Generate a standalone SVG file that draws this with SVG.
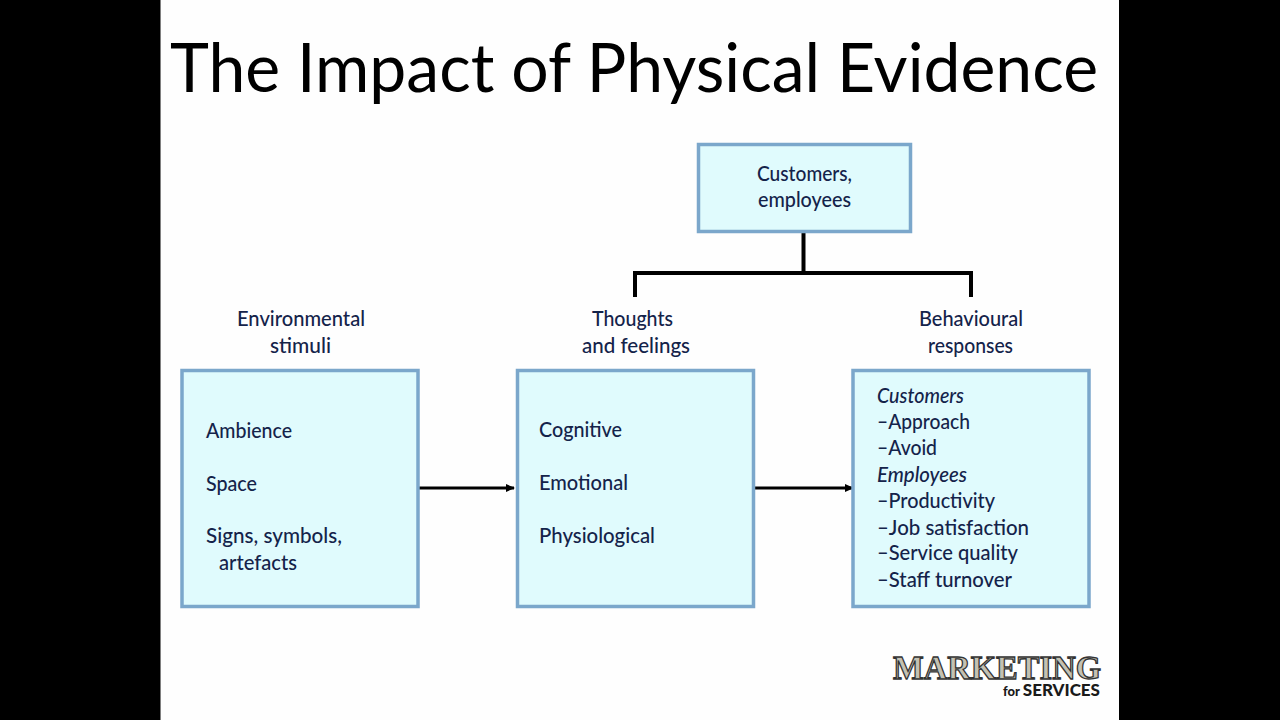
<svg xmlns="http://www.w3.org/2000/svg" width="1280" height="720" viewBox="0 0 1280 720">
<style>
.box{fill:#e0fbfd;stroke:#7ba7cb;stroke-width:3.5}
.t{font-family:"Lato","Noto Sans",sans-serif;font-size:21px;fill:#14234a;font-weight:500}
.m{text-anchor:middle}
.i{font-style:italic}
.c{fill:none;stroke:#000;stroke-width:4}
.a{fill:none;stroke:#000;stroke-width:3;marker-end:url(#ah)}
</style>
<defs><marker id="ah" markerUnits="userSpaceOnUse" markerWidth="9" markerHeight="9" refX="8" refY="4.5" orient="auto"><path d="M0 0.500L9 4.500L0 8.500Z" fill="#000"/></marker></defs>
<rect width="1280" height="720" fill="#000"/>
<rect x="160.500" y="0" width="958.500" height="720" fill="#fefefe"/>
<text id="title" x="634" y="92" text-anchor="middle" textLength="928" lengthAdjust="spacingAndGlyphs" style="font-family:'Lato','Noto Sans',sans-serif;font-size:67px;fill:#000">The Impact of Physical Evidence</text>
<g id="connectors">
<path class="c" d="M803.500 232V273M635 297V273H971V297"/>
<path class="a" d="M419 488H514"/>
<path class="a" d="M755 488H853"/>
</g>
<g id="customers"><rect class="box" x="698.500" y="144.500" width="212" height="87"/>
<text class="t m" x="804.500" y="181" textLength="95" lengthAdjust="spacingAndGlyphs">Customers,</text><text class="t m" x="804.500" y="207" textLength="93" lengthAdjust="spacingAndGlyphs">employees</text></g>
<g id="stimuli-label"><text class="t m" x="301" y="326" textLength="128" lengthAdjust="spacingAndGlyphs">Environmental</text><text class="t m" x="300.500" y="353" textLength="61" lengthAdjust="spacingAndGlyphs">stimuli</text></g>
<g id="thoughts-label"><text class="t m" x="632.500" y="326" textLength="81" lengthAdjust="spacingAndGlyphs">Thoughts</text><text class="t m" x="636" y="353" textLength="108" lengthAdjust="spacingAndGlyphs">and feelings</text></g>
<g id="responses-label"><text class="t m" x="971" y="326" textLength="104" lengthAdjust="spacingAndGlyphs">Behavioural</text><text class="t m" x="970.500" y="353" textLength="85" lengthAdjust="spacingAndGlyphs">responses</text></g>
<g id="stimuli"><rect class="box" x="182" y="370.500" width="236" height="236"/>
<text class="t" x="206" y="438" textLength="86" lengthAdjust="spacingAndGlyphs">Ambience</text><text class="t" x="206" y="491" textLength="51" lengthAdjust="spacingAndGlyphs">Space</text><text class="t" x="206" y="543" textLength="136" lengthAdjust="spacingAndGlyphs">Signs, symbols,</text><text class="t" x="219" y="570" textLength="78" lengthAdjust="spacingAndGlyphs">artefacts</text></g>
<g id="thoughts"><rect class="box" x="517.500" y="370.500" width="236" height="236"/>
<text class="t" x="539" y="437" textLength="83" lengthAdjust="spacingAndGlyphs">Cognitive</text><text class="t" x="539" y="490" textLength="89" lengthAdjust="spacingAndGlyphs">Emotional</text><text class="t" x="539" y="543" textLength="116" lengthAdjust="spacingAndGlyphs">Physiological</text></g>
<g id="responses"><rect class="box" x="853" y="370.500" width="236" height="236"/>
<text class="t i" x="877" y="403" textLength="87" lengthAdjust="spacingAndGlyphs">Customers</text><text class="t" x="877" y="429" textLength="93" lengthAdjust="spacingAndGlyphs">–Approach</text><text class="t" x="877" y="455" textLength="60" lengthAdjust="spacingAndGlyphs">–Avoid</text><text class="t i" x="877" y="482" textLength="90" lengthAdjust="spacingAndGlyphs">Employees</text><text class="t" x="877" y="508" textLength="118" lengthAdjust="spacingAndGlyphs">–Productivity</text><text class="t" x="877" y="535" textLength="152" lengthAdjust="spacingAndGlyphs">–Job satisfaction</text><text class="t" x="877" y="560" textLength="141" lengthAdjust="spacingAndGlyphs">–Service quality</text><text class="t" x="877" y="587" textLength="135" lengthAdjust="spacingAndGlyphs">–Staff turnover</text></g>
<g id="logo">
<text x="997" y="679" text-anchor="middle" textLength="208" lengthAdjust="spacingAndGlyphs" style="font-family:'Liberation Serif',serif;font-weight:bold;font-size:34px;fill:#c4c1b2;stroke:#333;stroke-width:1.3">MARKETING</text>
<text x="1100" y="696" text-anchor="end" style="font-family:'Lato',sans-serif;font-weight:900;font-size:17px;fill:#1a1a1a"><tspan font-size="13">for </tspan>SERVICES</text>
</g>
</svg>
